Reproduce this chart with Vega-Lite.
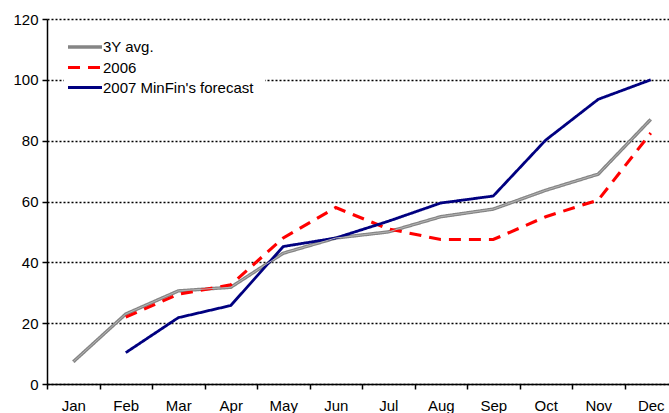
{
  "$schema": "https://vega.github.io/schema/vega-lite/v6.json",
  "width": 630,
  "height": 365,
  "autosize": {"type": "none"},
  "padding": {"left": 47, "top": 19, "right": 0, "bottom": 29},
  "background": "white",
  "config": {
    "view": {"stroke": null},
    "font": "Liberation Sans",
    "axis": {"labelFont": "Liberation Sans", "labelFontSize": 15, "labelColor": "black", "domainColor": "black", "tickColor": "black", "titleFontSize": 15}
  },
  "data": {
    "values": [
      {"month": "Jan", "series": "3Y avg.", "value": 7.3},
      {"month": "Feb", "series": "3Y avg.", "value": 23},
      {"month": "Mar", "series": "3Y avg.", "value": 30.6},
      {"month": "Apr", "series": "3Y avg.", "value": 31.8},
      {"month": "May", "series": "3Y avg.", "value": 43},
      {"month": "Jun", "series": "3Y avg.", "value": 48},
      {"month": "Jul", "series": "3Y avg.", "value": 50},
      {"month": "Aug", "series": "3Y avg.", "value": 55},
      {"month": "Sep", "series": "3Y avg.", "value": 57.5},
      {"month": "Oct", "series": "3Y avg.", "value": 63.7},
      {"month": "Nov", "series": "3Y avg.", "value": 69},
      {"month": "Dec", "series": "3Y avg.", "value": 87},
      {"month": "Feb", "series": "2006", "value": 22},
      {"month": "Mar", "series": "2006", "value": 29.5},
      {"month": "Apr", "series": "2006", "value": 32.6},
      {"month": "May", "series": "2006", "value": 48},
      {"month": "Jun", "series": "2006", "value": 58},
      {"month": "Jul", "series": "2006", "value": 51},
      {"month": "Aug", "series": "2006", "value": 47.5},
      {"month": "Sep", "series": "2006", "value": 47.5},
      {"month": "Oct", "series": "2006", "value": 55},
      {"month": "Nov", "series": "2006", "value": 60.5},
      {"month": "Dec", "series": "2006", "value": 82.5},
      {"month": "Feb", "series": "2007 MinFin's forecast", "value": 10.3},
      {"month": "Mar", "series": "2007 MinFin's forecast", "value": 21.8},
      {"month": "Apr", "series": "2007 MinFin's forecast", "value": 25.8},
      {"month": "May", "series": "2007 MinFin's forecast", "value": 45.2},
      {"month": "Jun", "series": "2007 MinFin's forecast", "value": 48},
      {"month": "Jul", "series": "2007 MinFin's forecast", "value": 53.5},
      {"month": "Aug", "series": "2007 MinFin's forecast", "value": 59.5},
      {"month": "Sep", "series": "2007 MinFin's forecast", "value": 61.8},
      {"month": "Oct", "series": "2007 MinFin's forecast", "value": 80.2},
      {"month": "Nov", "series": "2007 MinFin's forecast", "value": 93.6},
      {"month": "Dec", "series": "2007 MinFin's forecast", "value": 100}
    ]
  },
  "encoding": {
    "x": {
      "field": "month",
      "type": "ordinal",
      "sort": ["Jan","Feb","Mar","Apr","May","Jun","Jul","Aug","Sep","Oct","Nov","Dec"],
      "bandPosition": 0.5,
      "scale": {"type": "band", "paddingInner": 0, "paddingOuter": 0},
      "axis": {"title": null, "labelAngle": 0, "tickBand": "extent", "tickSize": 5, "labelPadding": 9, "domainWidth": 1.5, "tickWidth": 1.5, "grid": false, "labelBaseline": "top"}
    },
    "y": {
      "field": "value",
      "type": "quantitative",
      "scale": {"domain": [0, 120], "nice": false},
      "axis": {"title": null, "values": [0,20,40,60,80,100,120], "tickSize": 5, "labelPadding": 4, "domainWidth": 1.5, "tickWidth": 1.5, "grid": true, "gridColor": "black", "gridDash": [2,2], "gridWidth": 1.5, "gridOpacity": 1}
    }
  },
  "layer": [
    {
      "mark": {"type": "line", "strokeCap": "butt", "strokeJoin": "miter"},
      "encoding": {
        "color": {
          "field": "series",
          "type": "nominal",
          "sort": null,
          "scale": {"domain": ["3Y avg.", "2006", "2007 MinFin's forecast"], "range": ["#858585", "#ff0000", "#000080"]},
          "legend": {
            "title": null,
            "orient": "none",
            "legendX": 17,
            "legendY": 7,
            "padding": 11,
            "fillColor": "white",
            "symbolType": "M-2.125,0H2.125",
            "symbolSize": 256,
            "symbolStrokeWidth": 3,
            "labelFont": "Liberation Sans",
            "labelFontSize": 15,
            "labelColor": "black",
            "labelOffset": 8,
            "rowPadding": 2.5
          }
        },
        "strokeDash": {
          "field": "series",
          "type": "nominal",
          "sort": null,
          "scale": {"domain": ["3Y avg.", "2006", "2007 MinFin's forecast"], "range": [[1,0],[12,8],[1,0]]},
          "legend": null
        },
        "strokeWidth": {
          "field": "series",
          "type": "nominal",
          "sort": null,
          "scale": {"domain": ["3Y avg.", "2006", "2007 MinFin's forecast"], "range": [3.4, 2.8, 2.6]},
          "legend": null
        }
      }
    },
    {
      "transform": [{"filter": "datum.series === '3Y avg.'"}],
      "mark": {"type": "line", "color": "#b5b5b5", "strokeWidth": 1, "strokeCap": "butt"},
      "encoding": {}
    }
  ]
}
